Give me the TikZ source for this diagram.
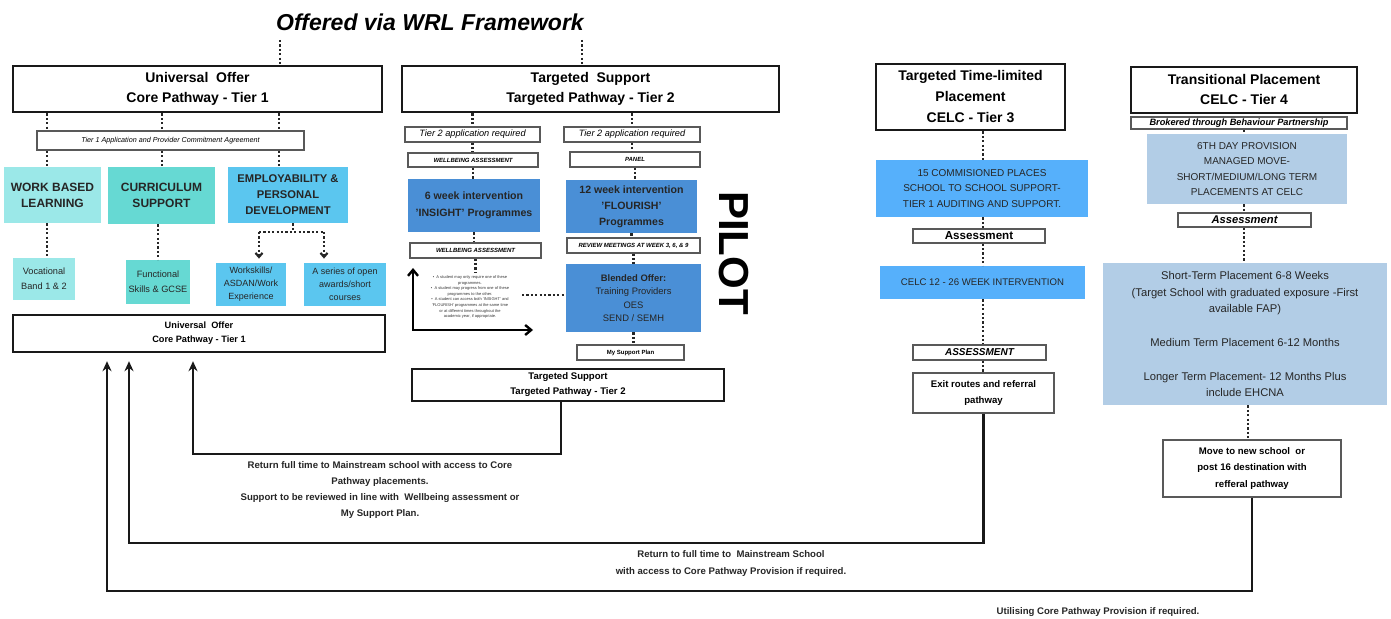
\documentclass[tikz,border=0pt]{standalone}
\usepackage{fontspec}
\setmainfont{Liberation Sans}
\usetikzlibrary{arrows.meta}
\definecolor{wblcyan}{RGB}{155,232,232}
\definecolor{currteal}{RGB}{102,217,211}
\definecolor{empblue}{RGB}{91,198,239}
\definecolor{tiertwo}{RGB}{74,143,214}
\definecolor{tierthree}{RGB}{86,176,251}
\definecolor{tierfour}{RGB}{178,205,230}
\newcommand\fsz[2]{\fontsize{#1}{#2}\selectfont}
\tikzset{
  hdr/.style={draw=black!90, line width=1.4pt, fill=white, align=center, inner sep=1pt, font=\fsz{7}{10}\bfseries},
  tagbox/.style={draw=black!65, line width=0.6pt, fill=white, align=center, inner sep=0.5pt},
  fillbox/.style={fill=#1, align=center, inner sep=1pt, text=black!85},
  dots/.style={line width=1.1pt, dash pattern=on 1.1pt off 1.1pt, black!85},
  ret/.style={line width=1.2pt, black!90, -{Stealth[length=5pt,width=4.5pt]}, shorten >=4pt},
  lbl/.style={align=center, text=black!85, font=\fsz{4.8}{8}\bfseries},
}
\begin{document}
\begin{tikzpicture}[x=0.5pt,y=-0.5pt]
\useasboundingbox (0,0) rectangle (1391,619);
% title
\node[font=\fsz{11.5}{14}\bfseries\itshape] (title) at (430,22) {Offered via WRL Framework};
\coordinate (tl) at (280,40);
\coordinate (tr) at (582,40);
% headers
\node[hdr, minimum width=184.5pt, minimum height=23pt] (uhdr) at (197.5,89) {Universal\ \ Offer\\Core Pathway - Tier 1};
\node[hdr, minimum width=188.5pt, minimum height=23pt] (thdr) at (590.5,89) {Targeted\ \ Support\\Targeted Pathway - Tier 2};
\node[hdr, minimum width=94.5pt, minimum height=33pt, font=\fsz{7}{10.5}\bfseries] (t3hdr) at (970.5,97) {Targeted Time-limited\\Placement\\CELC - Tier 3};
\node[hdr, minimum width=113pt, minimum height=23pt] (t4hdr) at (1244,90) {Transitional Placement\\CELC - Tier 4};
\draw[dots] (tl) -- (uhdr.north -| tl);
\draw[dots] (tr) -- (thdr.north -| tr);

% tier 1
\node[tagbox, line width=0.8pt, font=\fsz{3.6}{4}\itshape, minimum width=133.5pt, minimum height=9.5pt] (agree) at (170.5,140.5) {Tier 1 Application and Provider Commitment Agreement};
\node[fillbox=wblcyan, font=\fsz{6}{8}\bfseries, minimum width=48.5pt, minimum height=28pt] (wbl) at (52.5,195) {WORK BASED\\LEARNING};
\node[fillbox=currteal, font=\fsz{6}{8}\bfseries, minimum width=53.5pt, minimum height=28.5pt] (curr) at (161.5,195.5) {CURRICULUM\\SUPPORT};
\node[fillbox=empblue, font=\fsz{5.6}{8}\bfseries, minimum width=60pt, minimum height=28pt] (emp) at (288,195) {EMPLOYABILITY \&\\PERSONAL\\DEVELOPMENT};
\node[fillbox=wblcyan, font=\fsz{4.6}{7.5}, minimum width=31pt, minimum height=21pt] (voc) at (44,279) {Vocational\\Band 1 \& 2};
\node[fillbox=currteal, font=\fsz{4.6}{7.5}, minimum width=32pt, minimum height=22pt] (func) at (158,282) {Functional\\Skills \& GCSE};
\node[fillbox=empblue, font=\fsz{4.5}{6.5}, minimum width=35pt, minimum height=21.5pt] (work) at (251,284.5) {Workskills/\\ASDAN/Work\\Experience};
\node[fillbox=empblue, font=\fsz{4.5}{6.5}, minimum width=41pt, minimum height=21.5pt] (series) at (345,284.5) {A series of open\\awards/short\\courses};
\node[hdr, line width=1.2pt, font=\fsz{4.6}{7}\bfseries, minimum width=186pt, minimum height=18.5pt] (ubot) at (199,333.5) {Universal\ \ Offer\\Core Pathway - Tier 1};
\coordinate (u1) at (47,0);
\coordinate (u2) at (162,0);
\coordinate (u3) at (279,0);
\foreach \c/\b in {u1/wbl,u2/curr,u3/emp} {
  \draw[dots] (uhdr.south -| \c) -- (agree.north -| \c);
  \draw[dots] (agree.south -| \c) -- (\b.north -| \c);
}
\draw[dots] (wbl.south -| u1) -- (voc.north -| u1);
\draw[dots] (curr.south -| func.north) -- (func.north);
\coordinate (eb) at (293,232);
\coordinate (el) at (259,232);
\coordinate (er) at (324,232);
\draw[dots] (emp.south -| eb) -- (eb);
\draw[dots] (el) -- (er);
\draw[dots, -{Straight Barb[length=2pt,width=3.5pt]}, shorten >=2pt] (el) -- (el |- work.north);
\draw[dots, -{Straight Barb[length=2pt,width=3.5pt]}, shorten >=2pt] (er) -- (er |- series.north);

% tier 2
\node[tagbox, font=\fsz{4.6}{5}\itshape, minimum width=67.5pt, minimum height=7.5pt] (app1) at (472.5,134.5) {Tier 2 application required};
\node[tagbox, font=\fsz{4.6}{5}\itshape, minimum width=68pt, minimum height=7.5pt] (app2) at (632,134.5) {Tier 2 application required};
\node[tagbox, font=\fsz{3}{3.5}\bfseries\itshape, minimum width=65pt, minimum height=7pt] (wb1) at (473,160) {WELLBEING ASSESSMENT};
\node[tagbox, font=\fsz{3}{3.5}\bfseries\itshape, minimum width=65pt, minimum height=7.5pt] (panel) at (635,159.5) {PANEL};
\node[fillbox=tiertwo, font=\fsz{5.3}{8.5}\bfseries, minimum width=66pt, minimum height=26.5pt] (ins) at (474,205.5) {6 week intervention\\'INSIGHT' Programmes};
\node[fillbox=tiertwo, font=\fsz{5.3}{8}\bfseries, minimum width=65.5pt, minimum height=26.5pt] (flo) at (631.5,206.5) {12 week intervention\\'FLOURISH'\\Programmes};
\node[tagbox, font=\fsz{3}{3.5}\bfseries\itshape, minimum width=65.5pt, minimum height=7.5pt] (wb2) at (475.5,250.5) {WELLBEING ASSESSMENT};
\node[tagbox, font=\fsz{3}{3.5}\bfseries\itshape, minimum width=66.5pt, minimum height=7.5pt] (review) at (633.5,245.5) {REVIEW MEETINGS AT WEEK 3, 6, \& 9};
\node[fillbox=tiertwo, font=\fsz{4.7}{6.7}, minimum width=67.5pt, minimum height=34pt] (blend) at (633.5,298) {\textbf{Blended Offer:}\\Training Providers\\OES\\SEND / SEMH};
\node[tagbox, font=\fsz{3}{3.5}\bfseries, minimum width=53.5pt, minimum height=7.5pt] (msp) at (630.5,352.5) {My Support Plan};
\node[hdr, line width=1.2pt, font=\fsz{4.8}{7.5}\bfseries, minimum width=156pt, minimum height=16pt] (tbot) at (568,385) {Targeted Support\\Targeted Pathway - Tier 2};
\node[align=center, font=\fsz{2}{2.8}, text=black!80] (notes) at (470,297) {%
  \textbullet\ \ A student may only require one of these\\programmes.\\
  \textbullet\ \ A student may progress from one of these\\programmes to the other.\\
  \textbullet\ \ A student can access both 'INSIGHT' and\\'FLOURISH' programmes at the same time\\or at different times throughout the\\academic year, if appropriate.};
\node[rotate=-90, font=\fsz{21}{21}\bfseries] (pilot) at (734,253) {PILOT};
\draw[dots] (thdr.south -| app1.north) -- (app1.north);
\draw[dots] (thdr.south -| app2.north) -- (app2.north);
\foreach \a/\b in {app1/wb1,wb1/ins,ins/wb2,app2/panel,panel/flo,flo/review,review/blend,blend/msp}
  \draw[dots] (\a.south) -- (\a.south |- \b.north);
\coordinate (wbend) at (475.5,272);
\draw[dots] (wb2.south) -- (wbend);
\coordinate (nd) at (522,295);
\draw[dots] (nd) -- (nd -| blend.west);
\coordinate (ax) at (413,330);
\coordinate (axt) at (413,268);
\coordinate (axr) at (533,330);
\draw[line width=1.2pt, {Straight Barb[length=3pt,width=5pt]}-{Straight Barb[length=3pt,width=5pt]}] (axt) -- (ax) -- (axr);

% tier 3
\node[fillbox=tierthree, font=\fsz{5}{7.7}, minimum width=106pt, minimum height=28.5pt] (t3a) at (982,188.5) {15 COMMISIONED PLACES\\SCHOOL TO SCHOOL SUPPORT-\\TIER 1 AUDITING AND SUPPORT.};
\node[tagbox, font=\fsz{5.8}{6}\bfseries, minimum width=66pt, minimum height=7pt] (asm3) at (979,236) {Assessment};
\node[fillbox=tierthree, font=\fsz{4.8}{6}, minimum width=102.5pt, minimum height=16.5pt] (celc) at (982.5,282.5) {CELC 12 - 26 WEEK INTERVENTION};
\node[tagbox, font=\fsz{5}{6}\bfseries\itshape, minimum width=66.5pt, minimum height=7.5pt] (asm3b) at (979.5,352.5) {ASSESSMENT};
\node[tagbox, font=\fsz{4.8}{8}\bfseries, minimum width=70.5pt, minimum height=20pt] (exit) at (983.5,393) {Exit routes and referral\\pathway};
\coordinate (c3) at (983,0);
\foreach \a/\b in {t3hdr/t3a,t3a/asm3,asm3/celc,celc/asm3b,asm3b/exit}
  \draw[dots] (\a.south -| c3) -- (\b.north -| c3);

% tier 4
\node[tagbox, line width=0.8pt, font=\fsz{4.6}{5}\bfseries\itshape, minimum width=108pt, minimum height=6pt] (brok) at (1239,123) {Brokered through Behaviour Partnership};
\node[fillbox=tierfour, font=\fsz{5}{7.6}, minimum width=100pt, minimum height=35pt] (sixth) at (1247,169) {6TH DAY PROVISION\\MANAGED MOVE-\\SHORT/MEDIUM/LONG TERM\\PLACEMENTS AT CELC};
\node[tagbox, font=\fsz{5.6}{6}\bfseries\itshape, minimum width=66.5pt, minimum height=7pt] (asm4) at (1244.5,220) {Assessment};
\node[fillbox=tierfour, font=\fsz{5.6}{8.4}, minimum width=142pt, minimum height=71pt] (place) at (1245,334) {Short-Term Placement 6-8 Weeks\\(Target School with graduated exposure -First\\available FAP)\\[8.4pt]Medium Term Placement 6-12 Months\\[8.4pt]Longer Term Placement- 12 Months Plus\\include EHCNA};
\node[tagbox, font=\fsz{4.8}{8.2}\bfseries, minimum width=89pt, minimum height=28.5pt] (move) at (1252,468.5) {Move to new school\ \ or\\post 16 destination with\\refferal pathway};
\coordinate (c4) at (1244,0);
\coordinate (c5) at (1248,0);
\draw[dots] (brok.south -| c4) -- (sixth.north -| c4);
\draw[dots] (sixth.south -| c4) -- (asm4.north -| c4);
\draw[dots] (asm4.south -| c4) -- (place.north -| c4);
\draw[dots] (place.south -| c5) -- (move.north -| c5);

% return routes
\coordinate (ka) at (193,454);
\coordinate (kb) at (129,543);
\coordinate (kc) at (107,591);
\coordinate (ra) at (561,0);
\draw[ret] (tbot.south -| ra) |- (ka) -- (ubot.south -| ka);
\draw[ret] (exit.south) |- (kb) -- (ubot.south -| kb);
\draw[ret] (move.south) |- (kc) -- (ubot.south -| kc);
\node[lbl] (retA) at (380,490) {Return full time to Mainstream school with access to Core\\Pathway placements.\\Support to be reviewed in line with\ \ Wellbeing assessment or\\My Support Plan.};
\node[lbl, font=\fsz{4.8}{8.5}\bfseries] (retB) at (731,563.5) {Return to full time to\ \ Mainstream School\\with access to Core Pathway Provision if required.};
\node[lbl] (retC) at (1098,612) {Utilising Core Pathway Provision if required.};
\end{tikzpicture}
\end{document}
